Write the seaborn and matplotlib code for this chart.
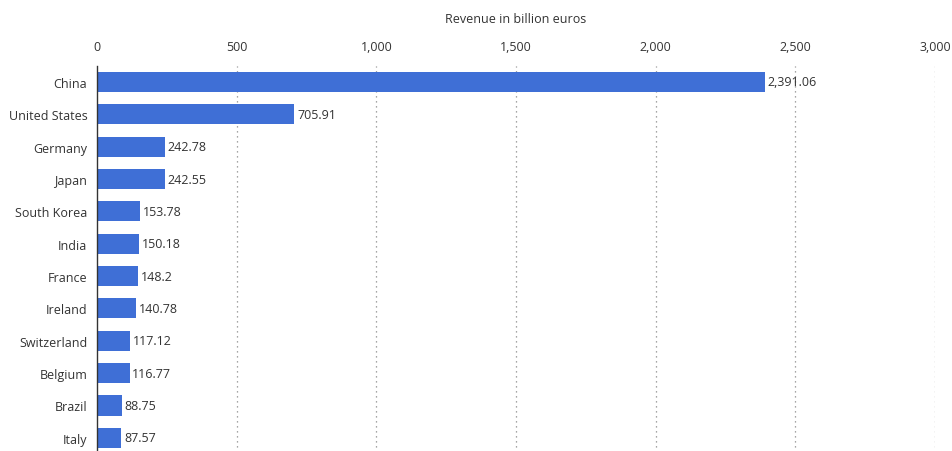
import matplotlib
matplotlib.use("Agg")
import matplotlib.pyplot as plt
import seaborn as sns
import pandas as pd

countries = ["China", "United States", "Germany", "Japan", "South Korea", "India",
             "France", "Ireland", "Switzerland", "Belgium", "Brazil", "Italy"]
revenue = [2391.06, 705.91, 242.78, 242.55, 153.78, 150.18, 148.2, 140.78,
           117.12, 116.77, 88.75, 87.57]
labels = ["2,391.06", "705.91", "242.78", "242.55", "153.78", "150.18", "148.2",
          "140.78", "117.12", "116.77", "88.75", "87.57"]
xticks = [0, 500, 1000, 1500, 2000, 2500, 3000]
xticklabels = ["0", "500", "1,000", "1,500", "2,000", "2,500", "3,000"]

df = pd.DataFrame({"country": countries, "revenue": revenue})

sns.set_style("white")
plt.rcParams["font.family"] = ["Open Sans", "DejaVu Sans"]

fig = plt.figure(figsize=(9.53, 4.52), dpi=100)
ax = fig.add_axes([97/953, 1 - 455/452, (935-97)/953, (455-66.8)/452])

sns.barplot(data=df, x="revenue", y="country", color="#3f6fd6", width=0.62,
            saturation=1, linewidth=0, ax=ax, zorder=3)

ax.set_xlim(0, 3000)
ax.set_ylim(11.5, -0.5)
ax.xaxis.tick_top()
ax.xaxis.set_label_position("top")
ax.set_xticks(xticks)
ax.set_xticklabels(xticklabels)
ax.set_xlabel("Revenue in billion euros", fontsize=9, color="#333333", labelpad=13)
ax.set_ylabel("")
ax.tick_params(axis="both", length=0, labelsize=9, colors="#333333")
ax.tick_params(axis="x", pad=9)
ax.tick_params(axis="y", pad=7)

for x in xticks[1:]:
    ax.axvline(x, color="#888888", linestyle=(0, (1, 3)), linewidth=0.9, zorder=1)

for s in ["top", "right", "bottom"]:
    ax.spines[s].set_visible(False)
ax.spines["left"].set_color("#333333")
ax.spines["left"].set_linewidth(1.0)
ax.spines["left"].set_zorder(5)

for c in ax.containers:
    ax.bar_label(c, labels=labels, padding=2, fontsize=9, color="#333333")

fig.savefig("out.png", dpi=100)
